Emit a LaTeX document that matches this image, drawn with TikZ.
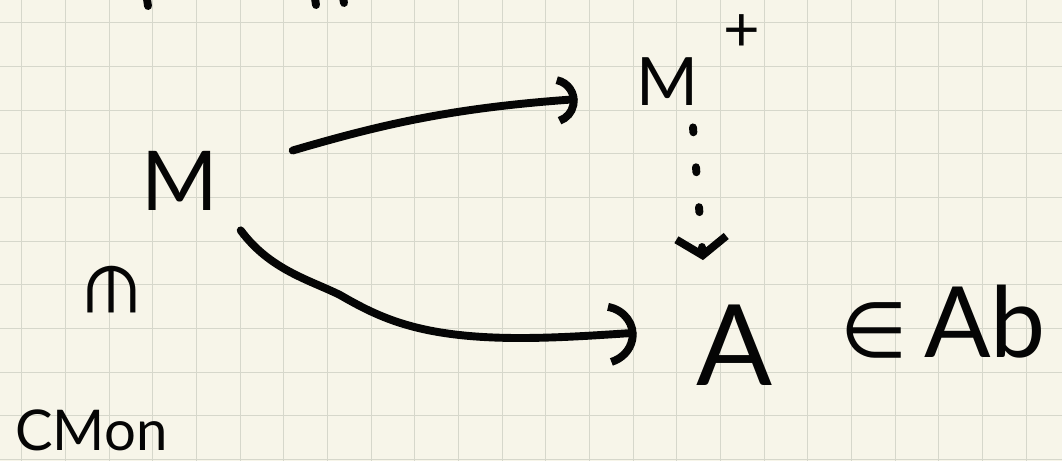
\documentclass[tikz,border=0pt]{standalone}
\usepackage{fontspec}
\setmainfont{Lato}
\newfontfamily\symfont{DejaVu Sans}
\usetikzlibrary{arrows.meta, positioning, calc}
\definecolor{paper}{HTML}{F7F5E9}
\definecolor{gridline}{HTML}{D6D7CB}
\definecolor{ink}{HTML}{050505}

\begin{document}
\begin{tikzpicture}[x=0.02cm, y=-0.02cm,
    obj/.style={inner sep=0pt, text=ink},
    pen/.style={draw=ink, line width=4.5pt, line cap=round},
    mapto/.style={pen, -{Arc Barb[arc=150, length=0.5cm, width=1cm]}},
    bigmapto/.style={pen, -{Arc Barb[arc=150, length=0.7cm, width=1.3cm]}},
    dotmap/.style={pen, dash pattern=on 0.1cm off 0.7cm, -{Straight Barb[length=0.35cm, width=1cm]}},
]
    % paper
    \fill[paper] (0,0) rectangle (1062,461);
    \useasboundingbox (0,0) rectangle (1062,461);
    \clip (0,0) rectangle (1062,461);
    \foreach \i in {0,...,23}
        \draw[gridline, line width=0.6pt] ({21.7+43.67*\i},0) -- ({21.7+43.67*\i},461);
    \foreach \j in {0,...,10}
        \draw[gridline, line width=0.6pt] (0,{22.7+43.67*\j}) -- (1062,{22.7+43.67*\j});

    % writing cut off by the top edge
    \draw[pen] (146,-8) -- (148,6) (265,-8) -- (266,-5) (314,-8) -- (316,5) (342,-8) -- (344,3);

    \node[obj, anchor=base, font=\fontsize{47}{47}\selectfont] (m) at (180,210) {M};
    \node[obj, anchor=base, font=\fontsize{38}{38}\selectfont,
        label={[obj, anchor=south west, xshift=0.5cm, yshift=0.1cm, font=\fontsize{36}{36}\selectfont]north east:+}] (mplus) at (667,105) {M};
    \node[obj, anchor=base, font=\fontsize{64}{64}\selectfont] (a) at (735,385) {A};
    \node[obj, anchor=base west, font=\fontsize{56}{56}\selectfont] (ab) at (840,357) {{\symfont\fontsize{44}{44}\selectfont ∈}\,Ab};
    \node[obj, rotate=-90, font=\symfont\fontsize{38}{38}\selectfont] (elem) at (112,290) {∈};
    \node[obj, anchor=base west, font=\fontsize{32}{32}\selectfont] (cmon) at (15,450) {CMon};

    \draw[mapto] ([shift={(74,0)}]m.north east) .. controls (380,125) and (450,108) .. ([shift={(-58,18)}]mplus.west);
    \draw[bigmapto] ([shift={(22,20)}]m.south east) .. controls (270,270) and (310,280) .. (340,295)
        .. controls (380,318) and (420,338) .. (520,338) .. controls (560,338) and (600,335) .. ([shift={(-60,-12)}]a.west);
    \draw[dotmap] ([shift={(26,22)}]mplus.south) -- ([shift={(-32,-44)}]a.north);
\end{tikzpicture}
\end{document}
